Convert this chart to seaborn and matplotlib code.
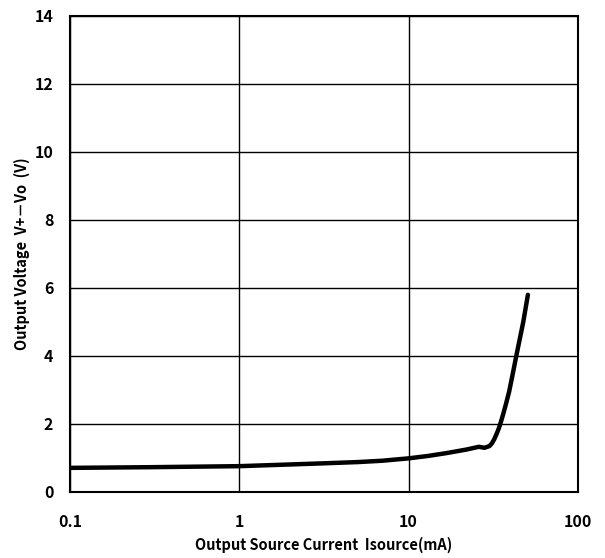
import numpy as np
import pandas as pd
import matplotlib
matplotlib.use("Agg")
import matplotlib.pyplot as plt
import seaborn as sns

# values
current_ma = [0.1, 0.3, 1, 2, 3, 5, 7, 10, 13, 17, 22, 26, 28, 30, 31.0, 32.0, 33.0, 34.0, 35.0, 36.2, 37.6, 39.2, 41.2, 43.2, 47.5, 50.6]
voltage_v = [0.71, 0.73, 0.76, 0.81, 0.84, 0.88, 0.92, 0.99, 1.06, 1.15, 1.25, 1.33, 1.30, 1.35, 1.43, 1.55, 1.70, 1.86, 2.05, 2.30, 2.60, 2.95, 3.48, 4.0, 5.0, 5.8]

x_ticks = [0.1, 1, 10, 100]
x_tick_labels = ["0.1", "1", "10", "100"]
y_ticks = [0, 2, 4, 6, 8, 10, 12, 14]

sns.set_style("white")
plt.rcParams['font.family'] = ['Noto Sans CJK JP', 'DejaVu Sans']
plt.rcParams['text.color'] = 'black'
plt.rcParams['xtick.color'] = 'black'
plt.rcParams['ytick.color'] = 'black'
plt.rcParams['axes.labelcolor'] = 'black'

df = pd.DataFrame({"Isource": current_ma, "V": voltage_v})

fig = plt.figure(figsize=(6.05, 5.58), dpi=100)
ax = fig.add_axes([70 / 605, 1 - 492 / 558, 508 / 605, 476 / 558])

sns.lineplot(data=df, x="Isource", y="V", ax=ax, color="black", linewidth=3.2)

ax.set_xscale("log")
ax.set_xlim(0.1, 100)
ax.set_ylim(0, 14)
ax.set_xticks(x_ticks)
ax.set_xticklabels(x_tick_labels)
ax.set_yticks(y_ticks)
ax.minorticks_off()
ax.grid(True, which="major", color="black", linewidth=1.0)
ax.tick_params(axis="x", length=0, labelsize=11.5, pad=16)
ax.tick_params(axis="y", length=0, labelsize=11.5, pad=12)
for lbl in ax.get_xticklabels() + ax.get_yticklabels():
    lbl.set_fontweight("bold")
for s in ax.spines.values():
    s.set_color("black")
    s.set_linewidth(1.5)

ax.set_xlabel("Output Source Current  Isource(mA)", fontsize=10.5, fontweight="bold", labelpad=5)
ax.set_ylabel("Output Voltage  V+－Vo  (V)", fontsize=10.5, fontweight="bold", labelpad=3)

fig.savefig("out.png", dpi=100)
